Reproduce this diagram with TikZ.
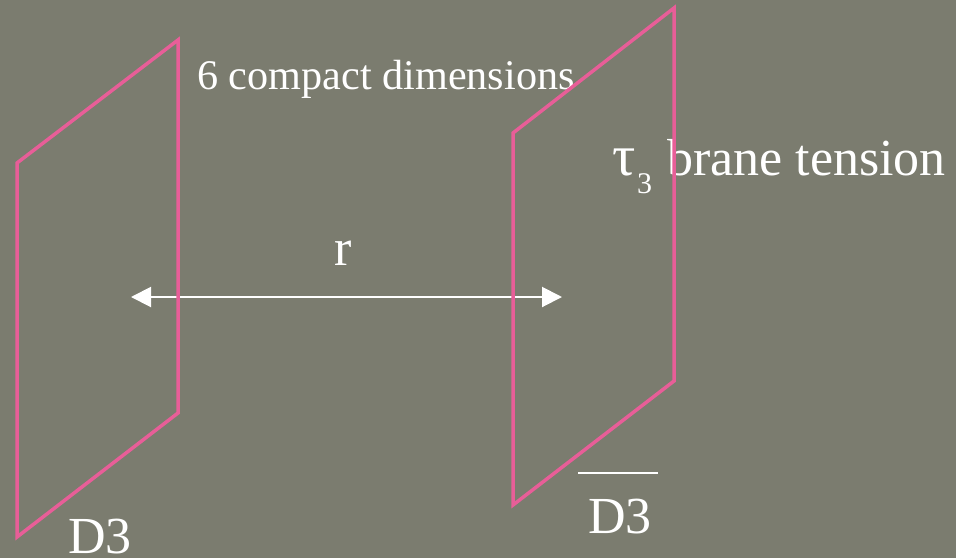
\documentclass[tikz,border=0pt]{standalone}
\usepackage{fontspec}
\setmainfont{Liberation Serif}
\usetikzlibrary{arrows.meta}
\definecolor{bg}{HTML}{7B7C6F}
\definecolor{brane}{HTML}{E85E98}
\tikzset{
  branebox/.style={draw=brane, line width=3.5pt, line join=miter},
  lbl/.style={text=white, inner sep=0pt, anchor=base west},
  sep/.style={draw=white, line width=2pt, {Triangle[length=20pt,width=20pt]}-{Triangle[length=20pt,width=20pt]}},
}
\begin{document}
\begin{tikzpicture}[x=1pt,y=-1pt]
\fill[bg] (0,0) rectangle (956,558);
\useasboundingbox (0,0) rectangle (956,558);
% labels
\node[lbl, font=\fontsize{42.2}{42.2}\selectfont] (compact) at (197,89) {6 compact dimensions};
\node[lbl, font=\fontsize{52}{52}\selectfont] (tension) at (612,175) {\makebox[25pt][l]{\fontsize{58}{58}\selectfont τ}\raisebox{-18pt}{\fontsize{30}{30}\selectfont 3}\hspace{15pt}brane tension};
\node[lbl, font=\fontsize{52}{52}\selectfont] (r) at (334,265) {r};
\node[lbl, font=\fontsize{52}{52}\selectfont] (d3) at (68,553) {D3};
\node[lbl, font=\fontsize{52}{52}\selectfont] (d3bar) at (588,533) {D3};
\coordinate (barL) at (578,473);
\coordinate (barR) at (658,473);
\draw[white, line width=2pt] (barL) -- (barR);
% separation arrow
\coordinate (rl) at (131,297);
\coordinate (rr) at (562,297);
\draw[sep] (rl) -- (rr);
% branes
\draw[branebox] (17,163) -- (178,40) -- (178,413) -- (17,537) -- cycle;
\draw[branebox] (513,133) -- (674,8) -- (674,381) -- (513,505) -- cycle;
\end{tikzpicture}
\end{document}
